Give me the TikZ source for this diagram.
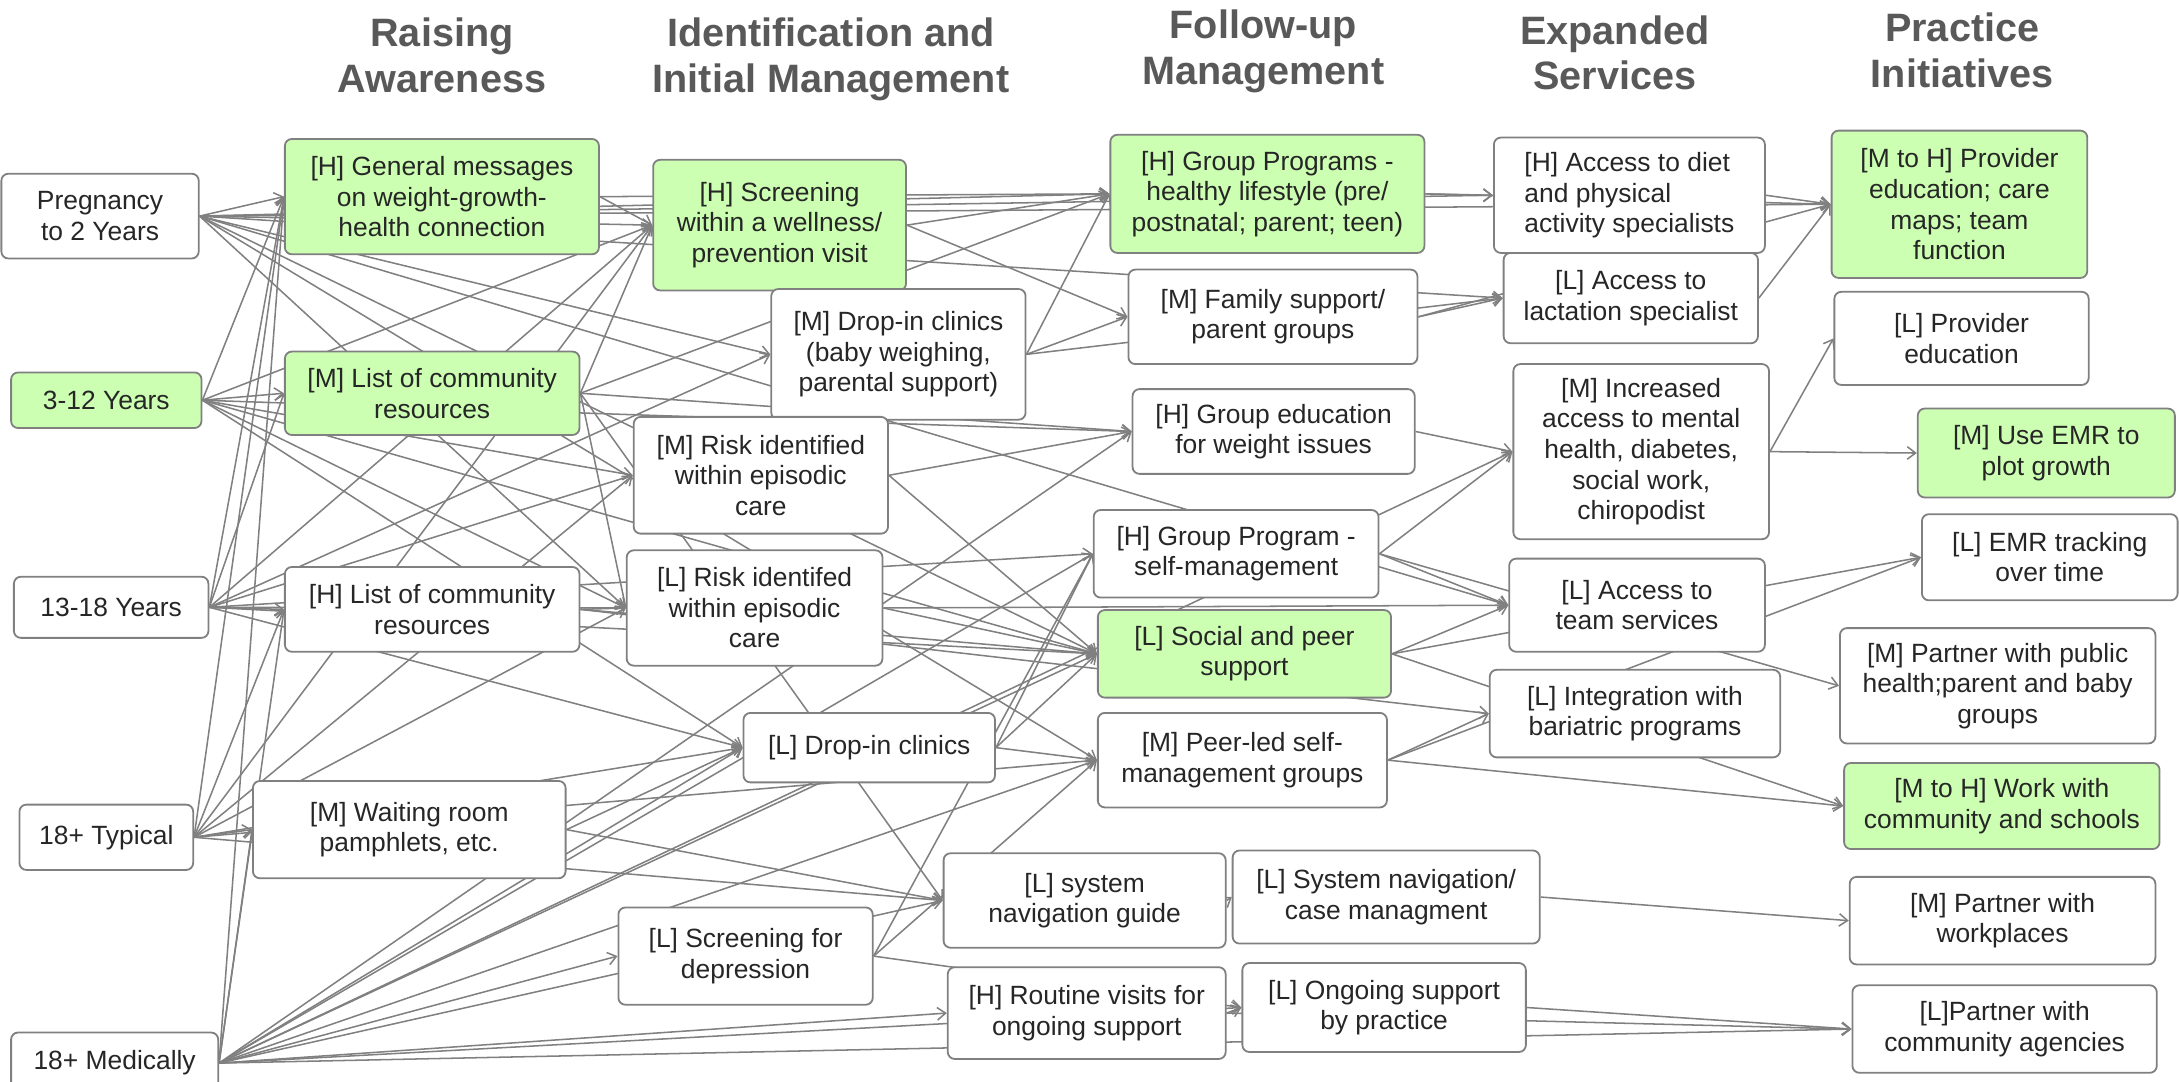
\documentclass[tikz,border=0pt]{standalone}
\usepackage{fontspec}
\setmainfont{Liberation Sans}
\usetikzlibrary{arrows.meta,backgrounds}
\definecolor{leaf}{RGB}{204,255,178}
\definecolor{rim}{RGB}{128,128,128}
\definecolor{ink}{RGB}{89,89,89}
\tikzset{
	item/.style={draw=rim,line width=1.3pt,rounded corners=5pt,fill=white,text=black!85,
		align=center,inner sep=2pt,font=\fontsize{19}{22}\selectfont},
	hot/.style={item,fill=leaf},
	head/.style={align=center,text=ink,font=\fontsize{28.5}{33}\selectfont\bfseries},
	link/.style={draw=rim,line width=1.1pt,-{Straight Barb[length=6pt,width=9pt]}}
}
\begin{document}
\begin{tikzpicture}[x=1pt,y=-1pt]
	\useasboundingbox (0,0) rectangle (1568,778);
	% column heads
	\node[head] (aware) at (318,40) {Raising\\Awareness};
	\node[head] (ident) at (598,43) {Identification and\\Initial Management};
	\node[head] (follow) at (909,37) {Follow-up\\Management};
	\node[head] (expand) at (1162,38) {Expanded\\Services};
	\node[head] (practice) at (1412,36) {Practice\\Initiatives};
	% age groups
	\node[item,minimum width=142pt,minimum height=61pt] (preg) at (72,155.5) {Pregnancy\\to 2 Years};
	\node[hot,minimum width=137pt,minimum height=40pt] (y312) at (76.5,288) {3-12 Years};
	\node[item,minimum width=140pt,minimum height=44pt] (y1318) at (80,437) {13-18 Years};
	\node[item,minimum width=125pt,minimum height=47pt] (typ) at (76.5,602.5) {18+ Typical};
	\node[item,minimum width=149pt,minimum height=44pt] (med) at (82.5,765) {18+ Medically};
	% raising awareness
	\node[hot,minimum width=226pt,minimum height=83pt] (gen) at (318,141.5) {[H] General messages\\on weight-growth-\\health connection};
	\node[hot,minimum width=212pt,minimum height=60pt] (mlist) at (311,283) {[M] List of community\\resources};
	\node[item,minimum width=212pt,minimum height=61pt] (hlist) at (311,438.5) {[H] List of community\\resources};
	\node[item,minimum width=225pt,minimum height=70pt] (wait) at (294.5,597) {[M] Waiting room\\pamphlets, etc.};
	% identification and initial management
	\node[hot,minimum width=182pt,minimum height=94pt] (screen) at (561,162) {[H] Screening\\within a wellness/\\prevention visit};
	\node[item,minimum width=183pt,minimum height=94pt] (drop) at (646.5,255) {[M] Drop-in clinics\\(baby weighing,\\parental support)};
	\node[item,minimum width=183pt,minimum height=84pt] (mrisk) at (547.5,342) {[M] Risk identified\\within episodic\\care};
	\node[item,minimum width=184pt,minimum height=83pt] (lrisk) at (543,437.5) {[L] Risk identifed\\within episodic\\care};
	\node[item,minimum width=181pt,minimum height=50pt] (ldrop) at (625.5,538) {[L] Drop-in clinics};
	\node[item,minimum width=203pt,minimum height=68pt] (sysnav) at (780.5,648) {[L] system\\navigation guide};
	\node[item,minimum width=183pt,minimum height=70pt] (depr) at (536.5,688) {[L] Screening for\\depression};
	\node[item,minimum width=200pt,minimum height=66pt] (routine) at (782,729) {[H] Routine visits for\\ongoing support};
	% follow-up management
	\node[hot,minimum width=226pt,minimum height=85pt] (grp) at (912,139.5) {[H] Group Programs -\\healthy lifestyle (pre/\\postnatal; parent; teen)};
	\node[item,minimum width=208pt,minimum height=68pt] (fam) at (916,228) {[M] Family support/\\parent groups};
	\node[item,minimum width=203pt,minimum height=61pt] (grpedu) at (916.5,310.5) {[H] Group education\\for weight issues};
	\node[item,minimum width=205pt,minimum height=63pt] (selfm) at (889.5,398.5) {[H] Group Program -\\self-management};
	\node[hot,minimum width=211pt,minimum height=63pt] (social) at (895.5,470.5) {[L] Social and peer\\support};
	\node[item,minimum width=208pt,minimum height=68pt] (peer) at (894,547) {[M] Peer-led self-\\management groups};
	\node[item,minimum width=221pt,minimum height=67pt] (casenav) at (997.5,645.5) {[L] System navigation/\\case managment};
	\node[item,minimum width=204pt,minimum height=64pt] (ongoing) at (996,725) {[L] Ongoing support\\by practice};
	% expanded services
	\node[item,align=left,minimum width=195pt,minimum height=83pt] (diet) at (1172.5,140.5) {[H] Access to diet\\and physical\\activity specialists};
	\node[item,minimum width=183pt,minimum height=65pt] (lact) at (1173.5,214.5) {[L] Access to\\lactation specialist};
	\node[item,minimum width=184pt,minimum height=126pt] (ment) at (1181,325) {[M] Increased\\access to mental\\health, diabetes,\\social work,\\chiropodist};
	\node[item,minimum width=184pt,minimum height=67pt] (team) at (1178,435.5) {[L] Access to\\team services};
	\node[item,minimum width=209pt,minimum height=63pt] (bari) at (1176.5,513.5) {[L] Integration with\\bariatric programs};
	% practice initiatives
	\node[hot,minimum width=184pt,minimum height=106pt] (prov) at (1410,147) {[M to H] Provider\\education; care\\maps; team\\function};
	\node[item,minimum width=183pt,minimum height=67pt] (lprov) at (1411.5,243.5) {[L] Provider\\education};
	\node[hot,minimum width=185pt,minimum height=64pt] (emr) at (1472.5,326) {[M] Use EMR to\\plot growth};
	\node[item,minimum width=184pt,minimum height=62pt] (emrt) at (1475,401) {[L] EMR tracking\\over time};
	\node[item,minimum width=227pt,minimum height=83pt] (pub) at (1437.5,493.5) {[M] Partner with public\\health;parent and baby\\groups};
	\node[hot,minimum width=227pt,minimum height=62pt] (school) at (1440.5,580) {[M to H] Work with\\community and schools};
	\node[item,minimum width=220pt,minimum height=63pt] (work) at (1441,662.5) {[M] Partner with\\workplaces};
	\node[item,minimum width=219pt,minimum height=63pt] (agency) at (1442.5,740.5) {[L]Partner with\\community agencies};
	% links, behind the boxes
	\begin{pgfonlayer}{background}
		\foreach \s/\ts in {
			preg/{gen,screen,grp,diet,prov,lact,drop,team,social,peer,lrisk},
			y312/{gen,mlist,screen,mrisk,social,grpedu,ldrop,lrisk},
			y1318/{gen,mlist,hlist,screen,mrisk,lrisk,drop,selfm,social,ldrop},
			typ/{gen,hlist,wait,screen,mrisk,lrisk,ldrop,sysnav,peer},
			med/{gen,hlist,wait,depr,routine,ongoing,agency,ldrop,peer,selfm,social,sysnav,grpedu,ment},
			gen/{screen,grp},
			mlist/{screen,grp,grpedu,lrisk,sysnav},
			hlist/{lrisk,social,bari},
			wait/{ldrop,sysnav},
			screen/{grp,fam},
			drop/{fam,grp,lact},
			mrisk/{grpedu,social},
			lrisk/{social,team},
			ldrop/{peer,selfm,social},
			depr/{peer,ongoing,selfm},
			sysnav/{casenav},
			routine/{ongoing,agency},
			grp/{diet,prov},
			fam/{lact,prov},
			grpedu/{ment},
			selfm/{ment,team,pub},
			social/{team,emrt,school},
			peer/{bari,school,emrt},
			casenav/{work},
			ongoing/{agency},
			diet/{prov},
			lact/{prov},
			ment/{lprov,emr}}
			\foreach \t in \ts
				\draw[link] (\s.east) -- (\t.west);
	\end{pgfonlayer}
\end{tikzpicture}
\end{document}
